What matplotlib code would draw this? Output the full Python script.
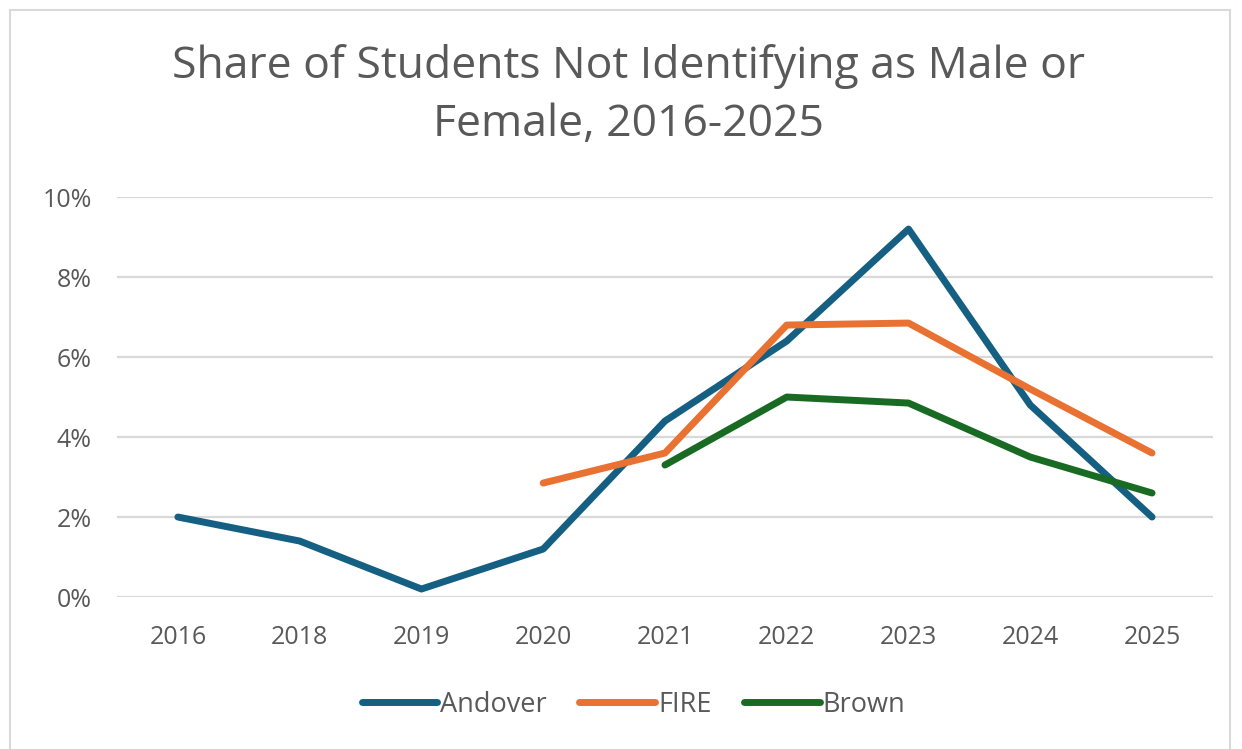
import numpy as np
import matplotlib.pyplot as plt
from matplotlib.patches import Rectangle
from matplotlib.ticker import PercentFormatter

plt.rcParams['font.family'] = ['Open Sans', 'DejaVu Sans']

years = ["2016", "2018", "2019", "2020", "2021", "2022", "2023", "2024", "2025"]
andover = [2.0, 1.4, 0.2, 1.2, 4.4, 6.4, 9.2, 4.8, 2.0]
fire = [np.nan, np.nan, np.nan, 2.85, 3.6, 6.8, 6.85, 5.2, 3.6]
brown = [np.nan, np.nan, np.nan, np.nan, 3.3, 5.0, 4.85, 3.5, 2.6]

grey = "#595959"

fig = plt.figure(figsize=(12.42, 7.49), dpi=100)
ax = fig.add_axes([0.0942, 0.2029, 0.8824, 0.534])

x = np.arange(len(years))
ax.plot(x, andover, color="#156082", lw=5, label="Andover", solid_capstyle="round")
ax.plot(x, fire, color="#E97132", lw=5, label="FIRE", solid_capstyle="round")
ax.plot(x, brown, color="#196B24", lw=5, label="Brown", solid_capstyle="round")

ax.set_ylim(0, 10)
ax.set_xlim(-0.5, 8.5)
ax.set_yticks([0, 2, 4, 6, 8, 10])
ax.yaxis.set_major_formatter(PercentFormatter(decimals=0))
ax.set_xticks(x)
ax.set_xticklabels(years)
ax.grid(axis="y", color="#d9d9d9", lw=1.6)
ax.set_axisbelow(True)
for s in ax.spines.values():
    s.set_visible(False)
ax.tick_params(length=0, labelsize=18, labelcolor=grey)
ax.tick_params(axis="y", pad=18)
ax.tick_params(axis="x", pad=20)

fig.text(0.506, 0.872, "Share of Students Not Identifying as Male or\nFemale, 2016-2025",
         ha="center", va="center", fontsize=32, color=grey, linespacing=1.4)

fig.legend(loc="center", bbox_to_anchor=(0.51, 0.059), ncol=3, frameon=False,
           fontsize=19.5, labelcolor=grey, handlelength=2.8, handletextpad=0.1,
           columnspacing=1.2)

fig.patches.append(Rectangle((0.008, -0.1), 0.982, 1.087, transform=fig.transFigure,
                             fill=False, edgecolor="#d9d9d9", lw=1.5))

fig.savefig("out.png", dpi=100)
